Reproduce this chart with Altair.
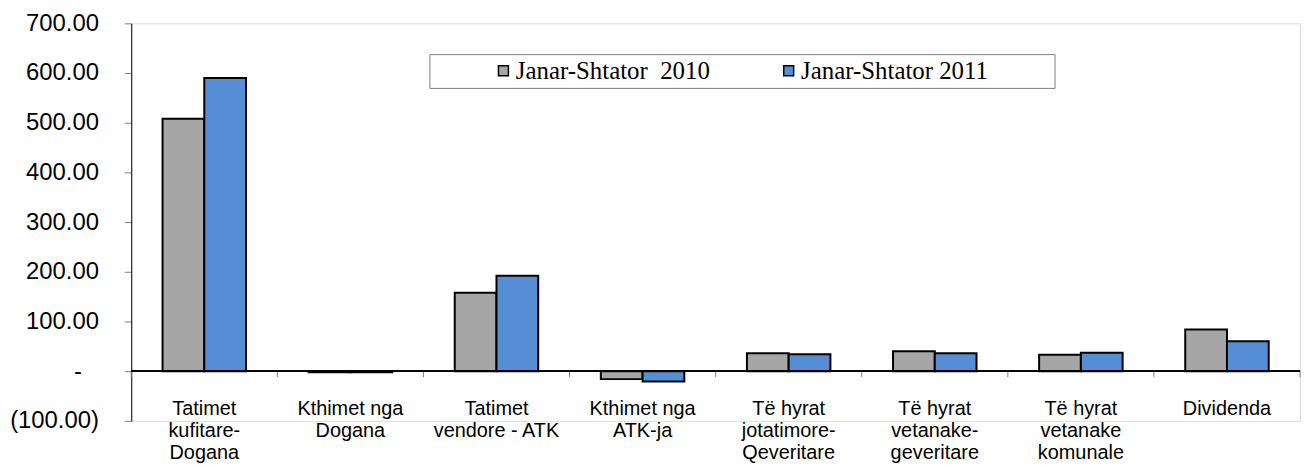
import altair as alt
import pandas as pd

categories = [
    "Tatimet\nkufitare-\nDogana",
    "Kthimet nga\nDogana",
    "Tatimet\nvendore - ATK",
    "Kthimet nga\nATK-ja",
    "Të hyrat\njotatimore-\nQeveritare",
    "Të hyrat\nvetanake-\ngeveritare",
    "Të hyrat\nvetanake\nkomunale",
    "Dividenda",
]
series_names = ["Janar-Shtator  2010", "Janar-Shtator 2011"]
values_2010 = [508, -2, 158, -16, 36, 40, 33, 84]
values_2011 = [590, -2, 192, -21, 34, 36, 37, 60]
y_ticks = [-100, 0, 100, 200, 300, 400, 500, 600, 700]
colors = ["#A6A6A6", "#558ED5"]

rows = []
for c, a, b in zip(categories, values_2010, values_2011):
    rows.append({"category": c, "series": series_names[0], "value": a})
    rows.append({"category": c, "series": series_names[1], "value": b})
df = pd.DataFrame(rows)
cat_df = pd.DataFrame({"category": categories})
last_df = pd.DataFrame({"category": categories[-1:]})

x_scale = alt.Scale(domain=categories, paddingInner=0, paddingOuter=0)
y_scale = alt.Scale(domain=[-100, 700], nice=False, zero=False)

y_label_expr = (
    "datum.value == 0 ? '-' : "
    "(datum.value < 0 ? '(' + format(-datum.value, ',.2f') + ')' : format(datum.value, ',.2f'))"
)

bars = alt.Chart(df).mark_bar(stroke="black", strokeWidth=2).encode(
    x=alt.X(
        "category:N",
        scale=x_scale,
        sort=categories,
        axis=alt.Axis(
            title=None,
            domain=False,
            ticks=False,
            labelAngle=0,
            labelAlign="center",
            labelBaseline="top",
            labelFont="Liberation Sans",
            labelFontSize=20,
            labelLineHeight=22,
            labelPadding=-22,
            labelColor="black",
            labelLimit=0,
            labelOverlap=False,
            labelExpr="split(datum.label, '\\n')",
        ),
    ),
    xOffset=alt.XOffset(
        "series:N",
        sort=series_names,
        scale=alt.Scale(domain=series_names, paddingInner=0, paddingOuter=0.75),
    ),
    y=alt.Y(
        "value:Q",
        scale=y_scale,
        axis=alt.Axis(
            title=None,
            values=y_ticks,
            grid=False,
            domainColor="black",
            domainWidth=1,
            tickColor="#808080",
            tickSize=7,
            labelFont="Liberation Sans",
            labelFontSize=24,
            labelPadding={"condition": {"test": "datum.value == 0", "value": 43}, "value": 26},
            labelColor="black",
            labelExpr=y_label_expr,
        ),
    ),
    color=alt.Color(
        "series:N",
        scale=alt.Scale(domain=series_names, range=colors),
        legend=alt.Legend(
            title=None,
            orient="none",
            legendX=300,
            legendY=31,
            direction="horizontal",
            fillColor="white",
            strokeColor="#7f7f7f",
            padding=4,
            labelFont="Liberation Serif",
            labelFontSize=25,
            labelColor="black",
            labelLimit=0,
            labelOffset=0,
            symbolType="square",
            symbolSize=100,
            symbolStrokeColor="black",
            symbolStrokeWidth=1.5,
            symbolOpacity=1,
            symbolOffset=58,
            columnPadding=8,
            labelExpr="datum.index == 0 ? replace(datum.label, '  ', '\u2002') : datum.label + '\u2003\u2003\u2002\u2060'",
        ),
    ),
)

zero_line = alt.Chart(cat_df).mark_rule(color="black", strokeWidth=1).encode(
    y=alt.datum(0),
)

boundary_ticks = alt.Chart(cat_df).mark_rule(color="#808080", strokeWidth=1).encode(
    x=alt.X("category:N", scale=x_scale, sort=categories, bandPosition=0),
    y=alt.datum(0),
    y2=alt.datum(-12),
)
end_tick = alt.Chart(last_df).mark_rule(color="#808080", strokeWidth=1).encode(
    x=alt.X("category:N", scale=x_scale, sort=categories, bandPosition=1),
    y=alt.datum(0),
    y2=alt.datum(-12),
)

chart = alt.layer(bars, boundary_ticks, end_tick, zero_line).properties(
    width=1176,
    height=400,
    padding={"left": 124, "top": 14, "right": 3, "bottom": 45},
    autosize=alt.AutoSizeParams(type="none"),
).configure_view(stroke=None).configure(background="white")

chart.save("out.html", embed_options={"renderer": "svg", "actions": False})
